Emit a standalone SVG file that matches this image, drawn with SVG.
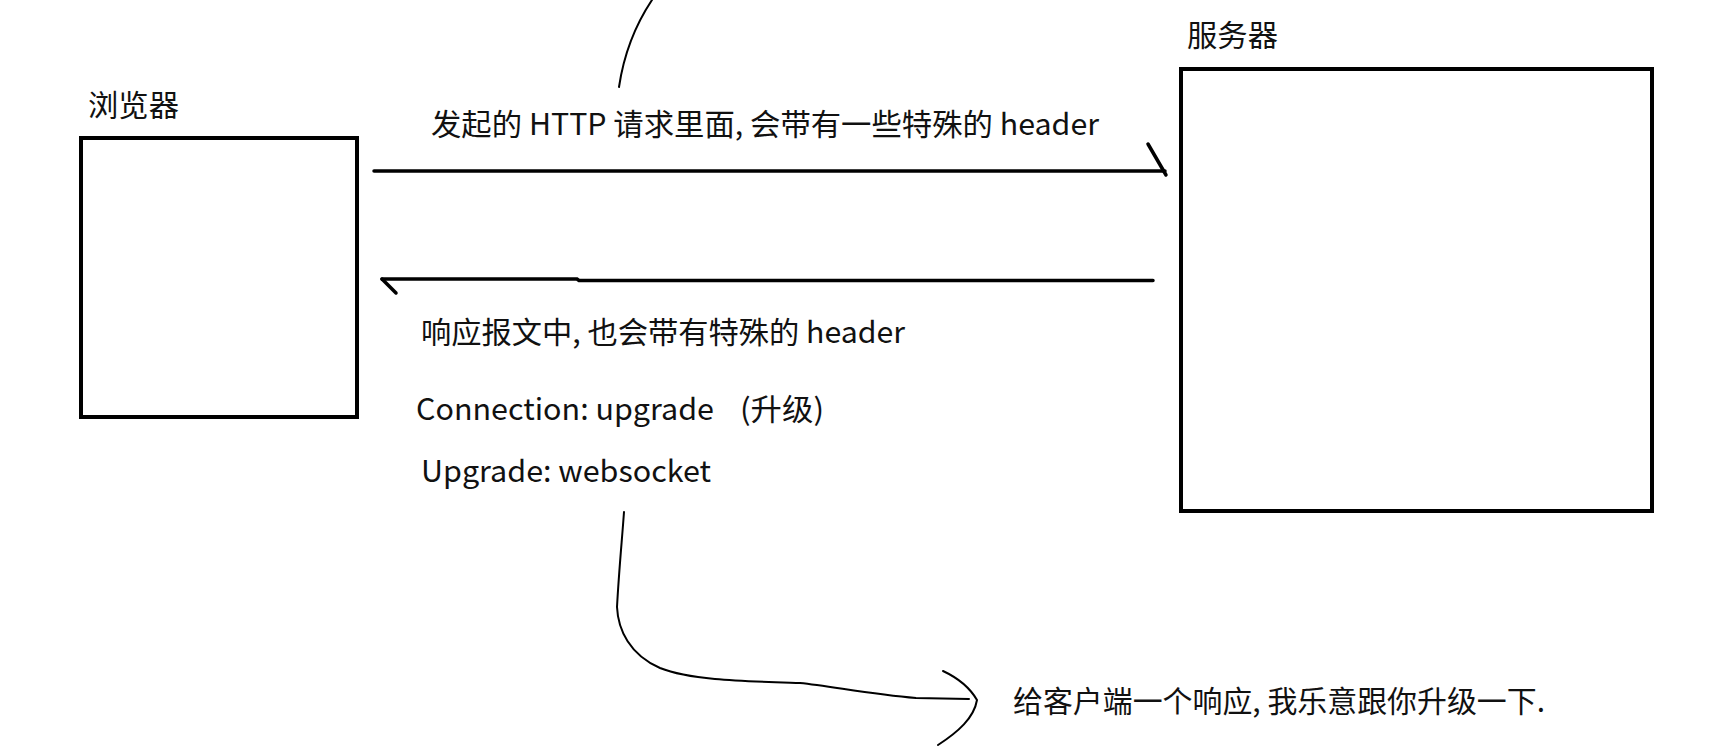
<svg xmlns="http://www.w3.org/2000/svg" width="1727" height="754" viewBox="0 0 1727 754">
<style>
.box{fill:#fff;stroke:#000;stroke-width:4}
.line{fill:none;stroke:#000;stroke-width:3.5;stroke-linecap:round}
.curve{fill:none;stroke:#000;stroke-width:2;stroke-linecap:round;stroke-linejoin:round}
.t{font-family:"Noto Sans CJK SC","Noto Sans",sans-serif;font-size:30px;fill:#111}
</style>
<rect width="1727" height="754" fill="#fff"/>
<g id="browser">
<rect class="box" x="81" y="138" width="276" height="279"/>
<text class="t" x="88" y="116" textLength="91" lengthAdjust="spacingAndGlyphs">浏览器</text>
</g>
<g id="server">
<rect class="box" x="1181" y="69" width="471" height="442"/>
<text class="t" x="1187" y="46" textLength="91" lengthAdjust="spacingAndGlyphs">服务器</text>
</g>
<g id="connectors">
<path class="line" d="M374,171 H1165"/>
<path class="line" d="M1148,144 L1166,175"/>
<path class="line" d="M382,279 H577 L579,280.5 H1153"/>
<path class="line" d="M382,279 L396,293"/>
<path class="curve" d="M619,87 C623,60 632,30 652,0"/>
<path class="curve" d="M624,512 C622,540 619,570 617,607 C618,630 630,655 660,668 C690,680 740,681 800,683 C830,686 870,694 916,698 L969,699"/>
<path class="curve" d="M943,671 C958,678 970,688 977,700 C974,718 958,732 938,745"/>
</g>
<g id="labels">
<text class="t" x="431" y="135" textLength="668" lengthAdjust="spacingAndGlyphs">发起的 HTTP 请求里面, 会带有一些特殊的 header</text>
<text class="t" x="421" y="343" textLength="484" lengthAdjust="spacingAndGlyphs">响应报文中, 也会带有特殊的 header</text>
<text class="t" x="416" y="420"><tspan textLength="298" lengthAdjust="spacingAndGlyphs">Connection: upgrade</tspan><tspan x="740" textLength="84" lengthAdjust="spacingAndGlyphs">(升级)</tspan></text>
<text class="t" x="421" y="482" textLength="290" lengthAdjust="spacingAndGlyphs">Upgrade: websocket</text>
<text class="t" x="1013" y="712" textLength="532" lengthAdjust="spacingAndGlyphs">给客户端一个响应, 我乐意跟你升级一下.</text>
</g>
</svg>
